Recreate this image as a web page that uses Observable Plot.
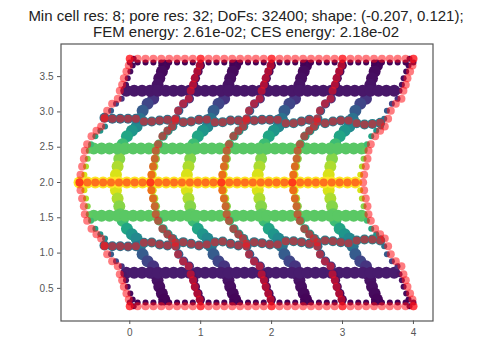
<!DOCTYPE html>
<html>
<head>
<meta charset="utf-8">
<script src="https://cdn.jsdelivr.net/npm/d3@7"></script>
<script src="https://cdn.jsdelivr.net/npm/@observablehq/plot@0.6"></script>
<style>
html,body{margin:0;padding:0;background:#fff;}
#title{box-sizing:border-box;width:480px;height:40px;padding:8px 0 0 12px;text-align:center;font:15px/16px "Liberation Sans",Arial,sans-serif;color:#222;white-space:nowrap;}
svg{display:block;}
</style>
</head>
<body>
<div id="title">Min cell res: 8; pore res: 32; DoFs: 32400; shape: (-0.207, 0.121);<br>FEM energy: 2.61e-02; CES energy: 2.18e-02</div>
<div id="chart"></div>
<script>
const titleLines = ["Min cell res: 8; pore res: 32; DoFs: 32400; shape: (-0.207, 0.121);", "FEM energy: 2.61e-02; CES energy: 2.18e-02"];
const xTicks = [0,1,2,3,4];
const yTicks = [0.5,1,1.5,2,2.5,3,3.5];

// heights of the sampled points along every vertical strut, with the sideways shift at each height
const levelY = [3.752,3.657,3.572,3.478,3.383,3.298,3.185,3.114,3.015,2.902,2.793,2.732,2.656,2.543,2.449,2.335,2.227,2.109,2.0,
                1.891,1.773,1.665,1.551,1.457,1.344,1.268,1.207,1.098,0.985,0.886,0.815,0.702,0.617,0.522,0.428,0.343,0.248];
const levelShift = [0,-0.014,-0.047,-0.084,-0.108,-0.141,-0.169,-0.249,-0.319,-0.357,-0.404,-0.470,-0.540,-0.601,-0.634,-0.648,-0.672,-0.695,-0.709,
                    -0.695,-0.672,-0.648,-0.634,-0.601,-0.540,-0.470,-0.404,-0.357,-0.319,-0.249,-0.169,-0.141,-0.108,-0.084,-0.047,-0.014,0];
// positions along a horizontal strut, before the shift
const along = [0,0.111,0.222,0.333,0.444,0.556,0.667,0.778,0.889,1,1.111,1.222,1.333,1.444,1.556,1.667,1.778,1.889,2,
               2.111,2.222,2.333,2.444,2.556,2.667,2.778,2.889,3,3.111,3.222,3.333,3.444,3.556,3.667,3.778,3.889,4];
// measured heights of the two wavy interface rows
const upperRowY = [2.916,2.902,2.902,2.902,2.902,2.864,2.864,2.878,2.888,2.878,2.855,2.864,2.888,2.892,2.855,2.855,2.878,2.878,
                   2.878,2.878,2.888,2.888,2.888,2.840,2.840,2.864,2.888,2.864,2.840,2.864,2.878,2.878,2.840,2.821,2.830,2.845];
const lowerRowY = [1.108,1.098,1.098,1.093,1.098,1.145,1.150,1.122,1.108,1.145,1.155,1.131,1.108,1.122,1.155,1.164,1.131,1.108,
                   1.131,1.155,1.141,1.122,1.122,1.169,1.169,1.155,1.131,1.155,1.178,1.169,1.155,1.141,1.178,1.193,1.193,1.178];

const poreColumns = [0.5,1.5,2.5,3.5];
const cellColumns = [1,2,3];
const edgeColumns = [0.055,3.945];
const plainRows = [{y:3.30,s:-0.16},{y:2.48,s:-0.62},{y:1.53,s:-0.62},{y:0.72,s:-0.16}];
const centreRow = {y:2.0,s:-0.709};
const edgeRows = [3.70,0.30];
// colour of the field against distance from the centre line
const toneDistance = [0,0.48,0.9,1.3,1.75];
const toneValue = [1,0.74,0.38,0.06,0];
const tone = d3.scaleLinear().domain(toneDistance).range(toneValue);

const rows36 = along.slice(0,36);
const field = [];
for (const c of poreColumns) levelY.forEach((y,i)=>{ if (i>0 && i<36) field.push({x:c+levelShift[i],y,r:6}); });
for (const c of cellColumns) levelY.forEach((y,i)=>{ if (i>0 && i<36) field.push({x:c+levelShift[i]+0.01,y,r:4.6}); });
for (const c of edgeColumns) levelY.forEach((y,i)=>field.push({x:c+levelShift[i],y,r:3}));
for (const row of plainRows) rows36.slice(1).forEach(a=>field.push({x:a+row.s,y:row.y,r:6}));
rows36.forEach(a=>field.push({x:a+centreRow.s,y:centreRow.y,r:6}));
rows36.forEach((a,i)=>field.push({x:a-0.357,y:upperRowY[i],r:5}));
rows36.forEach((a,i)=>field.push({x:a-0.357,y:lowerRowY[i],r:5}));
for (const y of edgeRows) along.forEach(a=>field.push({x:a,y,r:3}));

const red = [];
for (const c of [0,1,2,3,4]) levelY.forEach((y,i)=>red.push({x:c+levelShift[i],y}));
along.forEach(a=>{red.push({x:a,y:3.752});red.push({x:a,y:0.248});});
rows36.forEach((a,i)=>{
  red.push({x:a-0.357,y:upperRowY[i]});
  red.push({x:a-0.709,y:2.0});
  red.push({x:a-0.357,y:lowerRowY[i]});
});

const chart = Plot.plot({
  width:480, height:320,
  marginLeft:60.5, marginRight:47.5, marginTop:3.5, marginBottom:39.5,
  style:{background:"#fff",fontFamily:"'Liberation Sans',Arial,sans-serif",fontSize:"10px"},
  x:{domain:[-0.970,4.276]},
  y:{domain:[0.038,3.962]},
  r:{type:"identity"},
  color:{type:"linear",scheme:"viridis",domain:[0,1],clamp:true},
  marks:[
    Plot.dot(field,{x:"x",y:"y",r:"r",fill:d=>tone(Math.abs(d.y-2)),stroke:null}),
    Plot.dot(red,{x:"x",y:"y",r:4,fill:"#ff1018",fillOpacity:0.55,stroke:null}),
    Plot.frame({stroke:"#555",strokeWidth:1.2}),
    Plot.axisX({ticks:xTicks,tickSize:3.5,tickPadding:4,label:null,tickFormat:d=>String(d),color:"#555",fontSize:10}),
    Plot.axisY({ticks:yTicks,tickSize:3.5,tickPadding:4,label:null,tickFormat:d=>d.toFixed(1),color:"#555",fontSize:10})
  ]
});
chart.setAttribute("aria-label",titleLines.join(" "));
document.getElementById("chart").appendChild(chart);
</script>
</body>
</html>
